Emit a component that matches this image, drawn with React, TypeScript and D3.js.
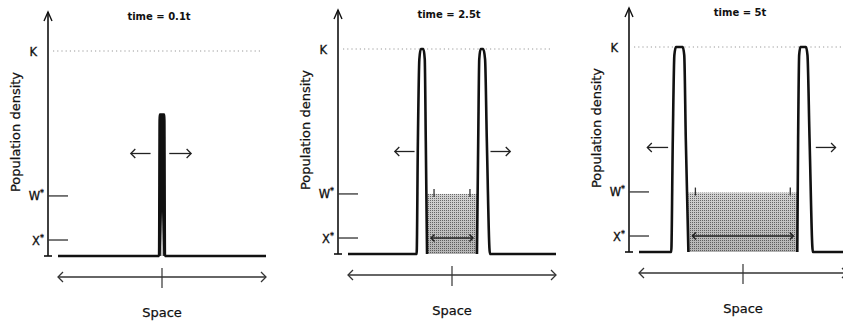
import React from 'react';
import * as d3 from 'd3';

// panel titles and the three density levels on the y axis
const times = ['0.1t', '2.5t', '5t'];
const levelLabels = ['K', 'W*', 'X*'];
const levelValues = [1, 0.293, 0.078];

// density profiles as [space, density], space runs -1..1, K = 1
const profile01: [number, number][] = [
  [-1, 0], [-0.028, 0], [-0.022, 0.69], [0.022, 0.69], [0.028, 0], [1, 0],
];
const profile25: [number, number][] = [
  [-1, 0], [-0.34, 0], [-0.328, 0.55], [-0.314, 0.95], [-0.3, 1], [-0.275, 1],
  [-0.262, 0.95], [-0.252, 0.55], [-0.24, 0.0], [NaN, NaN],
  [0.24, 0], [0.252, 0.55], [0.262, 0.95], [0.275, 1], [0.3, 1],
  [0.318, 0.95], [0.335, 0.55], [0.365, 0], [1, 0],
];
const profile5: [number, number][] = [
  [-1, 0], [-0.69, 0], [-0.675, 0.55], [-0.66, 0.96], [-0.645, 1], [-0.58, 1],
  [-0.565, 0.96], [-0.55, 0.55], [-0.525, 0], [NaN, NaN],
  [0.522, 0], [0.53, 0.55], [0.54, 0.96], [0.552, 1], [0.605, 1],
  [0.62, 0.96], [0.64, 0.55], [0.672, 0], [1, 0],
];
const profiles = [profile01, profile25, profile5];

// light core of the first spike
const spikeCore: [number, number][] = [[-0.012, 0], [0, 0.22], [0.012, 0]];

// shaded core left behind the fronts: [left, right, top]
const cores: ([number, number, number] | null)[] = [
  null,
  [-0.24, 0.24, 0.293],
  [-0.525, 0.522, 0.29],
];

// outward arrows: [left tail, left head, right tail, right head, density]
const frontArrows = [
  [-0.11, -0.3, 0.07, 0.28, 0.5],
  [-0.36, -0.55, 0.37, 0.56, 0.5],
  [-0.72, -0.92, 0.7, 0.89, 0.51],
];

const W = 843;
const H = 326;
const axisXs = [48, 338, 629];
const baseYs = [256, 254, 252];
const font = '"DejaVu Sans", Verdana, sans-serif';
const ink = '#111';

const Panel: React.FC<{ i: number }> = ({ i }) => {
  const ax = axisXs[i];
  const by = baseYs[i];
  const x = d3.scaleLinear().domain([-1, 1]).range([ax + 10, ax + 218]);
  const y = d3.scaleLinear().domain([0, 1]).range([by, by - 205]);

  const line = d3.line<[number, number]>()
    .defined(d => !isNaN(d[1]))
    .x(d => x(d[0]))
    .y(d => y(d[1]))
    .curve(d3.curveMonotoneX);
  const poly = d3.line<[number, number]>().x(d => x(d[0])).y(d => y(d[1]));

  const topY = by - 244;
  const sy = by + 21;
  const core = cores[i];
  const fa = frontArrows[i];
  const ay = y(fa[4]);

  const head = (hx: number, hy: number, dir: number, s = 5) =>
    `M${hx - dir * s},${hy - s} L${hx},${hy} L${hx - dir * s},${hy + s}`;

  return (
    <g>
      {/* title */}
      <text x={ax + 111} y={y(1) - 31} textAnchor="middle" fontFamily={font}
        fontSize={10} fontWeight="bold" fill={ink}>{`time = ${times[i]}`}</text>

      {/* y axis */}
      <line x1={ax} x2={ax} y1={by} y2={topY} stroke={ink} strokeWidth={1.6} />
      <path d={`M${ax - 4},${topY + 9} L${ax},${topY} L${ax + 4},${topY + 9}`}
        fill="none" stroke={ink} strokeWidth={1.4} />
      <line x1={ax - 4} x2={ax + 4} y1={by} y2={by} stroke={ink} strokeWidth={1.6} />
      <text transform={`translate(${ax - 28},${by - 124}) rotate(-90)`} textAnchor="middle"
        fontFamily={font} fontSize={13} fill={ink} stroke={ink} strokeWidth={0.25}>Population density</text>

      {levelLabels.map((lab, k) => (
        <g key={lab}>
          <text x={ax + (lab === 'K' ? -11 : -4)} y={y(levelValues[k]) + 4.5} textAnchor="end"
            fontFamily={font} fontSize={11.5} fill={ink} stroke={ink} strokeWidth={0.3}>
            {lab[0]}
            {lab.length > 1 && <tspan fontSize={8} dy={-4}>*</tspan>}
          </text>
          {lab === 'K' ? (
            <line x1={ax + 5} x2={x(1) - 4} y1={y(1)} y2={y(1)} stroke="#999"
              strokeWidth={1} strokeDasharray="1.2,3" />
          ) : (
            <line x1={ax} x2={ax + 20} y1={y(levelValues[k])} y2={y(levelValues[k])}
              stroke="#333" strokeWidth={1.3} />
          )}
        </g>
      ))}

      {/* shaded core */}
      {core && (
        <g>
          <rect x={x(core[0])} width={x(core[1]) - x(core[0])} y={y(core[2])}
            height={by - y(core[2])} fill="url(#stipple)" />
          <rect x={x(core[0])} width={x(core[1]) - x(core[0])} y={y(core[2])}
            height={by - y(core[2])} fill="url(#shade)" />
          <line x1={x(core[0]) + 4} x2={x(core[1]) - 4} y1={y(levelValues[2])}
            y2={y(levelValues[2])} stroke="#222" strokeWidth={1.5} />
          <path d={head(x(core[0]) + 4, y(levelValues[2]), -1, 3.5)} fill="none" stroke="#222" strokeWidth={1.5} />
          <path d={head(x(core[1]) - 4, y(levelValues[2]), 1, 3.5)} fill="none" stroke="#222" strokeWidth={1.5} />
          <line x1={x(core[0]) + 7} x2={x(core[0]) + 7} y1={y(core[2]) - 5} y2={y(core[2]) + 3}
            stroke="#333" strokeWidth={1.3} />
          <line x1={x(core[1]) - 7} x2={x(core[1]) - 7} y1={y(core[2]) - 5} y2={y(core[2]) + 3}
            stroke="#333" strokeWidth={1.3} />
        </g>
      )}

      {/* density profile */}
      {i === 0 && <path d={poly(profile01.slice(1, 5)) + 'Z'} fill={ink} />}
      {i === 0 && <path d={poly(spikeCore) + 'Z'} fill="#bbb" />}
      <path d={line(profiles[i]) || ''} fill="none" stroke={ink} strokeWidth={2.6}
        strokeLinejoin="round" />

      {/* outward arrows */}
      <line x1={x(fa[0])} x2={x(fa[1])} y1={ay} y2={ay} stroke="#222" strokeWidth={1.3} />
      <path d={head(x(fa[1]), ay, -1, 4.5)} fill="none" stroke="#222" strokeWidth={1.3} />
      <line x1={x(fa[2])} x2={x(fa[3])} y1={ay} y2={ay} stroke="#222" strokeWidth={1.3} />
      <path d={head(x(fa[3]), ay, 1, 4.5)} fill="none" stroke="#222" strokeWidth={1.3} />

      {/* space axis */}
      <line x1={x(-1)} x2={x(1)} y1={sy} y2={sy} stroke="#333" strokeWidth={1.3} />
      <path d={head(x(-1), sy, -1)} fill="none" stroke="#333" strokeWidth={1.3} />
      <path d={head(x(1), sy, 1)} fill="none" stroke="#333" strokeWidth={1.3} />
      <line x1={x(0)} x2={x(0)} y1={sy - 9} y2={sy + 11} stroke="#333" strokeWidth={1.2} />
      <text x={x(0)} y={by + 61} textAnchor="middle" fontFamily={font} fontSize={13}
        fill={ink} stroke={ink} strokeWidth={0.25}>Space</text>
    </g>
  );
};

export default function App() {
  return (
    <svg width={W} height={H} style={{ position: 'absolute', left: 0, top: 0, background: '#fff' }}>
      <defs>
        <pattern id="stipple" width={2} height={2} patternUnits="userSpaceOnUse">
          <rect width={2} height={2} fill="#d2d2d2" />
          <rect width={1} height={1} fill="#6a6a6a" />
        </pattern>
        <linearGradient id="shade" x1="0" x2="0" y1="0" y2="1">
          <stop offset="0" stopColor="#000" stopOpacity={0} />
          <stop offset="1" stopColor="#000" stopOpacity={0.15} />
        </linearGradient>
      </defs>
      <rect width={W} height={H} fill="#fff" />
      {times.map((t, i) => <Panel key={t} i={i} />)}
    </svg>
  );
}
